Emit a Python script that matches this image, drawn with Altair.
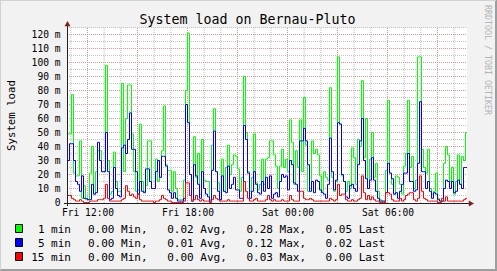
import altair as alt
import pandas as pd

# ---------------- data (load values in milli-units) ----------------
START_UTC = "2008-03-14 10:48:00"   # a Friday
STEP_SECONDS = 432                   # one consolidated value per 7.2 minutes (200 over 24 h)

load_1min = [49, 49, 77, 21, 19, 19, 44, 3, 12, 2, 2, 21, 40, 6, 22, 37, 37, 22, 22, 98,
             30, 6, 8, 36, 15, 8, 8, 85, 22, 60, 84, 84, 49, 22, 8, 9, 56, 15, 8, 12,
             44, 44, 10, 10, 31, 15, 18, 37, 69, 27, 23, 23, 8, 22, 10, 2, 2, 2, 16, 80,
             121, 20, 2, 47, 18, 35, 6, 45, 16, 15, 15, 2, 41, 67, 22, 14, 2, 31, 8, 25,
             41, 20, 27, 34, 33, 24, 8, 18, 90, 50, 22, 8, 18, 49, 14, 9, 13, 31, 13, 31,
             32, 44, 44, 34, 26, 10, 26, 38, 25, 31, 22, 59, 43, 13, 37, 25, 59, 22, 75, 41,
             8, 10, 44, 35, 38, 34, 19, 8, 22, 18, 16, 82, 18, 8, 15, 104, 56, 19, 15, 8,
             15, 10, 39, 32, 13, 45, 40, 87, 32, 60, 10, 31, 50, 18, 28, 8, 2, 1, 1, 23,
             73, 21, 13, 6, 19, 18, 13, 6, 26, 35, 73, 25, 33, 10, 16, 104, 104, 38, 25, 21,
             38, 10, 6, 8, 21, 3, 1, 1, 28, 40, 34, 15, 25, 6, 15, 34, 13, 33, 30, 50]

load_5min = [30, 42, 42, 30, 15, 13, 8, 19, 3, 3, 2, 2, 13, 6, 7, 43, 30, 22, 22, 50,
             22, 2, 3, 25, 10, 5, 4, 39, 41, 35, 45, 64, 38, 38, 22, 6, 15, 8, 7, 24,
             24, 15, 10, 10, 22, 30, 18, 33, 33, 26, 9, 7, 3, 7, 3, 1, 1, 1, 3, 70,
             57, 20, 1, 27, 19, 13, 3, 22, 10, 6, 4, 1, 23, 51, 22, 8, 2, 19, 8, 7,
             26, 10, 13, 18, 9, 9, 3, 3, 55, 45, 21, 3, 8, 22, 13, 7, 6, 15, 8, 18,
             10, 19, 3, 6, 7, 4, 15, 20, 18, 19, 9, 30, 27, 14, 13, 8, 44, 44, 53, 44,
             27, 8, 15, 7, 16, 15, 9, 7, 6, 3, 13, 46, 22, 9, 16, 57, 56, 20, 15, 4,
             3, 12, 13, 10, 8, 27, 44, 60, 30, 17, 10, 16, 32, 16, 8, 3, 1, 1, 1, 7,
             28, 21, 17, 6, 7, 3, 8, 13, 21, 21, 35, 15, 15, 8, 9, 28, 72, 22, 22, 10,
             15, 8, 3, 7, 6, 2, 1, 1, 10, 16, 15, 10, 15, 7, 8, 16, 13, 10, 25, 25]

load_15min = [5, 5, 3, 2, 1, 1, 2, 1, 0, 0, 0, 1, 1, 1, 1, 2, 2, 2, 3, 13,
              3, 1, 1, 1, 1, 1, 1, 2, 3, 12, 8, 5, 6, 4, 3, 6, 2, 1, 1, 1,
              1, 1, 1, 0, 1, 1, 2, 5, 3, 2, 1, 1, 0, 0, 0, 0, 0, 0, 1, 14,
              14, 5, 1, 2, 5, 2, 1, 2, 1, 1, 1, 0, 2, 5, 3, 2, 1, 1, 1, 1,
              2, 1, 1, 1, 1, 1, 1, 1, 15, 8, 3, 1, 1, 2, 3, 1, 1, 1, 1, 2,
              5, 2, 1, 2, 1, 1, 1, 2, 1, 1, 1, 5, 2, 1, 1, 1, 8, 8, 3, 2,
              2, 3, 2, 1, 1, 1, 1, 1, 1, 1, 1, 3, 2, 1, 2, 13, 5, 6, 6, 2,
              1, 1, 2, 1, 1, 2, 3, 19, 7, 2, 5, 2, 4, 2, 1, 1, 0, 0, 0, 7,
              7, 6, 2, 1, 1, 1, 3, 1, 2, 5, 6, 7, 7, 2, 1, 3, 19, 8, 3, 2,
              1, 1, 1, 1, 1, 0, 0, 3, 1, 4, 1, 1, 1, 1, 1, 1, 1, 1, 2, 3]

series_names = ["1 min", "5 min", "15 min"]
series_colors = ["#00FF00", "#0000FF", "#FF0000"]
stat_min = [0.00, 0.00, 0.00]
stat_avg = [0.02, 0.01, 0.00]
stat_max = [0.28, 0.12, 0.03]
stat_last = [0.05, 0.02, 0.00]

chart_title = "System load on Bernau-Pluto"
y_title = "System load"
watermark = "RRDTOOL / TOBI OETIKER"

y_label_values = list(range(0, 121, 10))
y_minor_values = list(range(5, 126, 5))
y_major_values = list(range(10, 121, 10))
x_label_times = ["2008-03-14 12:00", "2008-03-14 18:00", "2008-03-15 00:00", "2008-03-15 06:00"]
x_minor_range = ("2008-03-14 11:00", "2008-03-15 10:00")
x_major_range = ("2008-03-14 12:00", "2008-03-15 09:00")

# ---------------- build tables ----------------
def ms(ts):
    return int(pd.Timestamp(ts, tz="UTC").value // 10**6)

start_ms = ms(START_UTC)
end_ms = start_ms + 86400 * 1000

def series_frame(values):
    n = len(values)
    t = [start_ms + i * STEP_SECONDS * 1000 for i in range(n + 1)]
    return pd.DataFrame({"t": t, "y": list(values) + [values[-1]]})

minor_t = [int(x.value // 10**6) for x in pd.date_range(*x_minor_range, freq="h", tz="UTC")]
major_t = [int(x.value // 10**6) for x in pd.date_range(*x_major_range, freq="3h", tz="UTC")]
label_t = [ms(s) for s in x_label_times]

W, H = 400, 175
FONT = "DejaVu Sans Mono"

x_axis = alt.Axis(values=label_t, labelExpr="utcFormat(datum.value, '%a %H:%M')",
                  grid=False, ticks=False, domain=False, labelFont=FONT, labelFontSize=9.6,
                  labelColor="#000000", labelPadding=4, labelOverlap=False, labelFlush=False,
                  title=None)
y_axis = alt.Axis(values=y_label_values,
                  labelExpr="datum.value == 0 ? '0' : datum.value + ' m'",
                  grid=False, ticks=False, domain=False, labelFont=FONT, labelFontSize=9.6,
                  labelColor="#000000", labelPadding=7, title=None)

# half-pixel offset ranges so that 1px strokes fall on whole pixels (crisp like rrdtool)
x_enc = alt.X("t:T", scale=alt.Scale(type="utc", domain=[start_ms, end_ms], range=[0.5, W + 0.5]),
              axis=x_axis)
y_enc = alt.Y("y:Q", scale=alt.Scale(domain=[0, 125], nice=False, zero=True, range=[H - 0.5, -0.5]),
              axis=y_axis)

one = pd.DataFrame({"k": [0]})

# grid
grid_minor_v = alt.Chart(pd.DataFrame({"t": minor_t})).mark_rule(
    color="#BDBDBD", strokeWidth=1, strokeDash=[1, 1]).encode(
    x=x_enc, y=alt.value(0), y2=alt.value(H))
grid_minor_h = alt.Chart(pd.DataFrame({"y": y_minor_values})).mark_rule(
    color="#C4C4C4", strokeWidth=1, strokeDash=[1, 1]).encode(
    y=y_enc, x=alt.value(0), x2=alt.value(W))
grid_major_v = alt.Chart(pd.DataFrame({"t": major_t})).mark_rule(
    color="#E89090", strokeWidth=1, strokeDash=[1, 1]).encode(
    x=x_enc, y=alt.value(0), y2=alt.value(H))
grid_major_h = alt.Chart(pd.DataFrame({"y": y_major_values})).mark_rule(
    color="#E89090", strokeWidth=1, strokeDash=[1, 1]).encode(
    y=y_enc, x=alt.value(0), x2=alt.value(W))

# series lines (green, then blue, then red on top)
def line_layer(values, color):
    return alt.Chart(series_frame(values)).mark_line(
        interpolate="step-after", strokeWidth=1, color=color, clip=True).encode(x=x_enc, y=y_enc)

lines = [line_layer(load_1min, series_colors[0]),
         line_layer(load_5min, series_colors[1]),
         line_layer(load_15min, series_colors[2])]

# axes lines and arrows
axis_color = "#202020"
arrow_color = "#7F2020"
x_axis_line = alt.Chart(one).mark_rule(color=axis_color, strokeWidth=1).encode(
    x=alt.value(-3), x2=alt.value(W + 3), y=alt.value(H + 0.5))
y_axis_line = alt.Chart(one).mark_rule(color=axis_color, strokeWidth=1).encode(
    x=alt.value(0.5), y=alt.value(H + 3), y2=alt.value(-4))
arrow_up = alt.Chart(one).mark_point(shape="triangle-up", size=36, filled=True,
                                     color=arrow_color, opacity=1).encode(
    x=alt.value(0.5), y=alt.value(-4.4))
arrow_right = alt.Chart(one).mark_point(shape="triangle-right", size=36, filled=True,
                                        color=arrow_color, opacity=1).encode(
    x=alt.value(W + 4.4), y=alt.value(H + 0.5))

# frame shading
shade_r = alt.Chart(one).mark_rule(color="#9E9E9E", strokeWidth=2).encode(
    x=alt.value(429), y=alt.value(-28), y2=alt.value(243))
shade_b = alt.Chart(one).mark_rule(color="#9E9E9E", strokeWidth=2).encode(
    x=alt.value(-67), x2=alt.value(430), y=alt.value(242))
shade_l = alt.Chart(one).mark_rule(color="#D2D2D2", strokeWidth=1).encode(
    x=alt.value(-66.5), y=alt.value(-28), y2=alt.value(242))
shade_t = alt.Chart(one).mark_rule(color="#D2D2D2", strokeWidth=1).encode(
    x=alt.value(-67), x2=alt.value(429), y=alt.value(-27.5))

# texts
title_layer = alt.Chart(pd.DataFrame({"s": [chart_title]})).mark_text(
    font=FONT, fontSize=13.3, color="#000000", align="center", baseline="alphabetic").encode(
    text="s:N", x=alt.value(180.5), y=alt.value(-4))
ytitle_layer = alt.Chart(pd.DataFrame({"s": [y_title]})).mark_text(
    font=FONT, fontSize=10.7, color="#000000", align="center", baseline="alphabetic",
    angle=270).encode(text="s:N", x=alt.value(-52), y=alt.value(87.5))
wm_layer = alt.Chart(pd.DataFrame({"s": [watermark]})).mark_text(
    font=FONT, fontSize=8.3, color="#B4B4B4", align="left", baseline="alphabetic",
    angle=90).encode(text="s:N", x=alt.value(418), y=alt.value(-23))

legend_df = pd.DataFrame({
    "name": series_names, "color": series_colors,
    "vmin": stat_min, "vavg": stat_avg, "vmax": stat_max, "vlast": stat_last,
    "row": [0, 1, 2],
})
legend_base = alt.Chart(legend_df).transform_calculate(
    ty="204.5 + 14 * datum.row",
    ry="196.5 + 14 * datum.row",
    ry2="204.5 + 14 * datum.row",
    s_min="format(datum.vmin, '.2f') + ' Min,'",
    s_avg="format(datum.vavg, '.2f') + ' Avg,'",
    s_max="format(datum.vmax, '.2f') + ' Max,'",
    s_last="format(datum.vlast, '.2f') + ' Last'",
)
legend_boxes = legend_base.mark_rect(stroke="#000000", strokeWidth=1).encode(
    x=alt.value(-51.5), x2=alt.value(-44.5),
    y=alt.Y("ry:Q", scale=None), y2="ry2:Q",
    fill=alt.Fill("color:N", scale=None))

def legend_text(field, xpos, align):
    return legend_base.mark_text(font=FONT, fontSize=11, color="#000000", align=align,
                                 baseline="alphabetic").encode(
        text=f"{field}:N", x=alt.value(xpos), y=alt.Y("ty:Q", scale=None))

legend_texts = [legend_text("name", 4, "right"),
                legend_text("s_min", 21, "left"),
                legend_text("s_avg", 100.2, "left"),
                legend_text("s_max", 179.4, "left"),
                legend_text("s_last", 258.6, "left")]

chart = alt.layer(
    grid_minor_v, grid_minor_h, grid_major_v, grid_major_h,
    *lines,
    x_axis_line, y_axis_line, arrow_up, arrow_right,
    shade_r, shade_b, shade_l, shade_t,
    title_layer, ytitle_layer, wm_layer,
    legend_boxes, *legend_texts,
).properties(
    width=W, height=H,
    background="#F2F2F2",
    padding={"left": 67, "top": 28, "right": 30, "bottom": 68},
    autosize=alt.AutoSizeParams(type="none"),
).configure_view(fill="#FFFFFF", strokeWidth=0)

chart.save("out.html", embed_options={"renderer": "svg", "actions": False})
